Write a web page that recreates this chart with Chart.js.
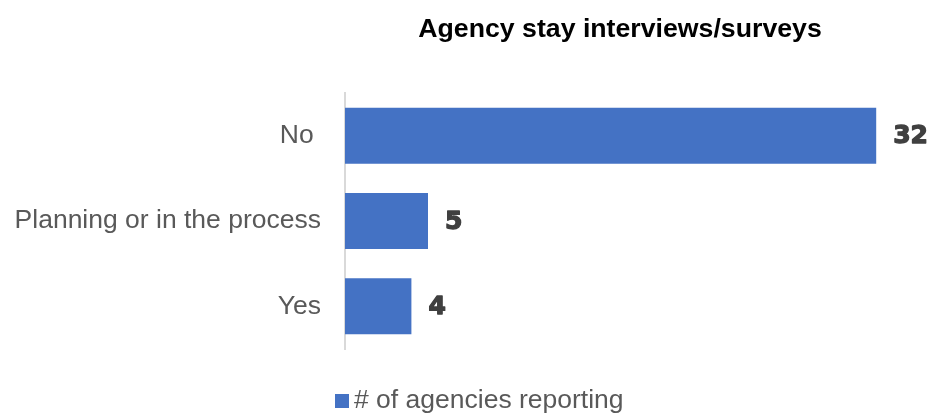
<!DOCTYPE html>
<html>
<head>
  <title>Agency stay interviews/surveys</title>
  <script src="https://cdn.jsdelivr.net/npm/chart.js"></script>
  <style>
    body { margin: 0; background: #fff; }
    .chart-container { width: 932px; height: 416px; position: relative; }
  </style>
</head>
<body>
  <div class="chart-container">
    <canvas id="chart"></canvas>
  </div>

  <script>
    const chartTitle = "Agency stay interviews/surveys";
    const seriesName = "# of agencies reporting";
    const categories = ["No ", "Planning or in the process", "Yes"];
    const agencyCounts = [32, 5, 4];

    const barColor = "#4472C4";
    const labelFont = "'Liberation Sans', Arial, sans-serif";

    // value next to the end of each bar (stroked a bit to look heavier)
    const barValues = {
      id: "barValues",
      afterDatasetsDraw(chart) {
        const ctx = chart.ctx;
        const meta = chart.getDatasetMeta(0);
        ctx.save();
        ctx.font = "bold 25px 'DejaVu Sans', sans-serif";
        ctx.fillStyle = "#404040";
        ctx.strokeStyle = "#404040";
        ctx.lineWidth = 1.3;
        ctx.lineJoin = "round";
        ctx.textAlign = "left";
        ctx.textBaseline = "middle";
        meta.data.forEach((bar, i) => {
          const txt = String(chart.data.datasets[0].data[i]);
          ctx.fillText(txt, bar.x + 17, bar.y + 1);
          ctx.strokeText(txt, bar.x + 17, bar.y + 1);
        });
        ctx.restore();
      }
    };

    // title over the plot and legend under it
    const titleAndLegend = {
      id: "titleAndLegend",
      afterDraw(chart) {
        const ctx = chart.ctx;
        ctx.save();
        ctx.textAlign = "center";
        ctx.textBaseline = "alphabetic";
        ctx.fillStyle = "#000000";
        ctx.font = "bold 26.7px " + labelFont;
        ctx.fillText(chartTitle, 620, 37);

        ctx.fillStyle = barColor;
        ctx.fillRect(335, 394, 14, 14);
        ctx.textAlign = "left";
        ctx.fillStyle = "#595959";
        ctx.font = "26.5px " + labelFont;
        ctx.fillText(seriesName, 354, 408);
        ctx.restore();
      }
    };

    const chart = new Chart("chart", {
      type: "bar",
      data: {
        labels: categories,
        datasets: [
          {
            label: seriesName,
            data: agencyCounts,
            backgroundColor: barColor,
            borderWidth: 0,
            categoryPercentage: 1,
            barPercentage: 0.656,
          },
        ],
      },
      options: {
        indexAxis: "y",
        responsive: true,
        maintainAspectRatio: false,
        animation: false,
        layout: {
          padding: { top: 93, bottom: 67, left: 0, right: 6 },
        },
        plugins: {
          legend: { display: false },
          title: { display: false },
          tooltip: { enabled: false },
        },
        scales: {
          x: {
            display: false,
            min: 0,
            max: 35,
          },
          y: {
            grid: { display: false, drawTicks: false },
            border: { display: true, color: "#D9D9D9", width: 2 },
            ticks: {
              color: "#595959",
              font: { family: labelFont, size: 26.5 },
              padding: 24,
            },
            afterFit(scale) {
              scale.width = 345;
            },
          },
        },
      },
      plugins: [barValues, titleAndLegend],
    });
  </script>
</body>
</html>
